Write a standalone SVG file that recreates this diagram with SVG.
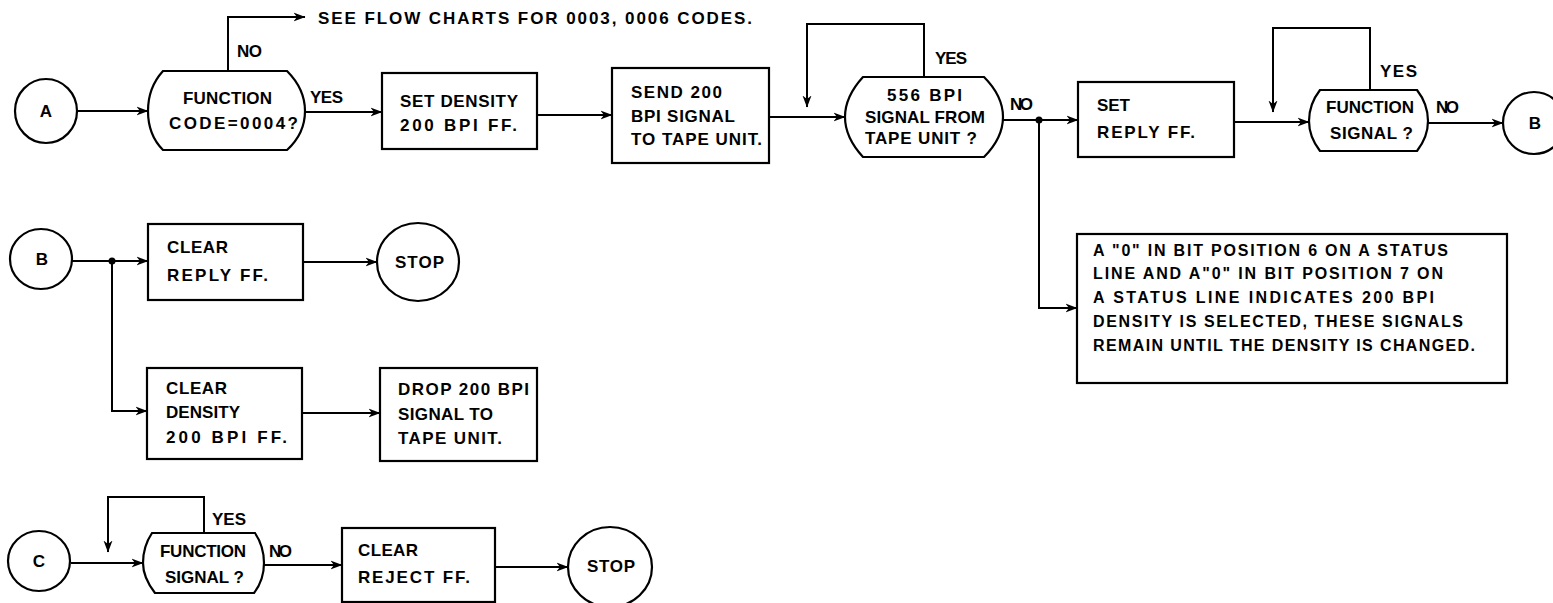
<svg xmlns="http://www.w3.org/2000/svg" width="1553" height="603" viewBox="0 0 1553 603">
<style>
.ln{stroke:#000;stroke-width:2;fill:none}
.nd{stroke:#000;stroke-width:2.2;fill:#fff}
text{font-family:"Liberation Sans",Arial,sans-serif;font-weight:bold;font-size:17px;fill:#000}
.m{font-size:16px}
.c{text-anchor:middle}
</style>
<defs>
<marker id="ah" viewBox="0 0 12 10" refX="11.5" refY="5" markerWidth="12" markerHeight="10" markerUnits="userSpaceOnUse" orient="auto">
<path d="M0,0.5 L12,5 L0,9.5 L3.5,5 Z" fill="#000"/>
</marker>
</defs>
<rect width="1553" height="603" fill="#fff"/>

<g id="connectors">
<path class="ln" d="M77,111 H148" marker-end="url(#ah)"/>
<path class="ln" d="M228,71 V17 H305" marker-end="url(#ah)"/>
<path class="ln" d="M305,112 H382" marker-end="url(#ah)"/>
<path class="ln" d="M537,115 H612" marker-end="url(#ah)"/>
<path class="ln" d="M769,117 H845" marker-end="url(#ah)"/>
<path class="ln" d="M924,77 V24 H807 V107" marker-end="url(#ah)"/>
<path class="ln" d="M1003,120 H1078" marker-end="url(#ah)"/>
<path class="ln" d="M1039,120 V308 H1077" marker-end="url(#ah)"/>
<circle cx="1039" cy="120" r="3.5" fill="#000"/>
<path class="ln" d="M1234,122 H1309" marker-end="url(#ah)"/>
<path class="ln" d="M1370,90 V28 H1273 V112" marker-end="url(#ah)"/>
<path class="ln" d="M1428,123 H1503" marker-end="url(#ah)"/>

<path class="ln" d="M72,261 H148" marker-end="url(#ah)"/>
<path class="ln" d="M112,261 V411 H147" marker-end="url(#ah)"/>
<circle cx="112" cy="261" r="3.5" fill="#000"/>
<path class="ln" d="M303,262 H377" marker-end="url(#ah)"/>
<path class="ln" d="M302,413 H380" marker-end="url(#ah)"/>

<path class="ln" d="M71,563 H143" marker-end="url(#ah)"/>
<path class="ln" d="M204,533 V497 H108 V552" marker-end="url(#ah)"/>
<path class="ln" d="M264,565 H342" marker-end="url(#ah)"/>
<path class="ln" d="M495,567 H568" marker-end="url(#ah)"/>

<text x="237" y="57" textLength="25">NO</text>
<text x="318" y="24" textLength="434">SEE FLOW CHARTS FOR 0003, 0006 CODES.</text>
<text x="310" y="103" textLength="33">YES</text>
<text x="935" y="64" textLength="32">YES</text>
<text x="1010" y="110" textLength="23">NO</text>
<text x="1380" y="77" textLength="37">YES</text>
<text x="1436" y="113" textLength="23">NO</text>
<text x="212" y="525" textLength="34">YES</text>
<text x="269" y="557" textLength="23">NO</text>
</g>

<g id="nA">
<ellipse class="nd" cx="46" cy="111" rx="31" ry="32"/>
<text class="c" x="46" y="117">A</text>
</g>

<g id="d1">
<path class="nd" d="M163,71 H287 C298,82 305,96 305,111 C305,126 298,140 287,150 H163 C153,140 148,126 148,111 C148,96 153,82 163,71 Z"/>
<text x="183" y="104" textLength="89">FUNCTION</text>
<text x="169" y="129" textLength="129">CODE=0004?</text>
</g>

<g id="b1">
<rect class="nd" x="382" y="73" width="155" height="76"/>
<text x="400" y="107" textLength="118">SET DENSITY</text>
<text x="400" y="131" textLength="117">200 BPI FF.</text>
</g>

<g id="b2">
<rect class="nd" x="612" y="68" width="157" height="95"/>
<text x="631" y="98" textLength="91">SEND 200</text>
<text x="631" y="122" textLength="104">BPI SIGNAL</text>
<text x="631" y="145" textLength="131">TO TAPE UNIT.</text>
</g>

<g id="d2">
<path class="nd" d="M863,77 H984 C996,89 1003,103 1003,117 C1003,131 996,145 984,157 H863 C852,145 845,131 845,117 C845,103 852,89 863,77 Z"/>
<text x="887" y="101" textLength="75">556 BPI</text>
<text x="865" y="123" textLength="120">SIGNAL FROM</text>
<text x="865" y="144" textLength="112">TAPE UNIT ?</text>
</g>

<g id="b3">
<rect class="nd" x="1078" y="82" width="156" height="75"/>
<text x="1097" y="111" textLength="33">SET</text>
<text x="1097" y="138" textLength="98">REPLY FF.</text>
</g>

<g id="d3">
<path class="nd" d="M1320,90 H1417 C1424,99 1428,110 1428,121 C1428,132 1424,142 1417,151 H1320 C1313,142 1309,132 1309,121 C1309,110 1313,99 1320,90 Z"/>
<text x="1326" y="113" textLength="88">FUNCTION</text>
<text x="1330" y="139" textLength="83">SIGNAL ?</text>
</g>

<g id="nB1">
<ellipse class="nd" cx="1534" cy="123" rx="31" ry="31"/>
<text class="c" x="1535" y="129">B</text>
</g>

<g id="nB2">
<ellipse class="nd" cx="41" cy="259" rx="31" ry="30"/>
<text class="c" x="42" y="265">B</text>
</g>

<g id="b4">
<rect class="nd" x="148" y="224" width="155" height="76"/>
<text x="167" y="253" textLength="61">CLEAR</text>
<text x="167" y="281" textLength="101">REPLY FF.</text>
</g>

<g id="stop1">
<ellipse class="nd" cx="418" cy="262" rx="41" ry="39"/>
<text x="395" y="268" textLength="49">STOP</text>
</g>

<g id="b5">
<rect class="nd" x="147" y="368" width="155" height="91"/>
<text x="166" y="394" textLength="61">CLEAR</text>
<text x="166" y="418" textLength="74">DENSITY</text>
<text x="166" y="443" textLength="121">200 BPI FF.</text>
</g>

<g id="b6">
<rect class="nd" x="380" y="368" width="157" height="93"/>
<text x="398" y="395" textLength="131">DROP 200 BPI</text>
<text x="398" y="420" textLength="95">SIGNAL TO</text>
<text x="398" y="444" textLength="104">TAPE UNIT.</text>
</g>

<g id="note">
<rect class="nd" x="1077" y="234" width="430" height="149"/>
<text class="m" x="1093" y="256" textLength="355">A "0" IN BIT POSITION 6 ON A STATUS</text>
<text class="m" x="1093" y="279" textLength="350">LINE AND A"0" IN BIT POSITION 7 ON</text>
<text class="m" x="1093" y="303" textLength="341">A STATUS LINE INDICATES 200 BPI</text>
<text class="m" x="1093" y="327" textLength="370">DENSITY IS SELECTED, THESE SIGNALS</text>
<text class="m" x="1093" y="351" textLength="382">REMAIN UNTIL THE DENSITY IS CHANGED.</text>
</g>

<g id="nC">
<ellipse class="nd" cx="39" cy="561" rx="31" ry="30"/>
<text class="c" x="39" y="567">C</text>
</g>

<g id="d4">
<path class="nd" d="M152,533 H255 C261,542 264,552 264,563 C264,574 261,584 254,593 H155 C148,584 143,574 143,563 C143,552 146,542 152,533 Z"/>
<text x="160" y="557" textLength="86">FUNCTION</text>
<text x="165" y="583" textLength="79">SIGNAL ?</text>
</g>

<g id="b7">
<rect class="nd" x="342" y="528" width="153" height="74"/>
<text x="358" y="556" textLength="60">CLEAR</text>
<text x="358" y="583" textLength="112">REJECT FF.</text>
</g>

<g id="stop2">
<ellipse class="nd" cx="610" cy="567" rx="42" ry="40"/>
<text x="587" y="572" textLength="48">STOP</text>
</g>
</svg>
